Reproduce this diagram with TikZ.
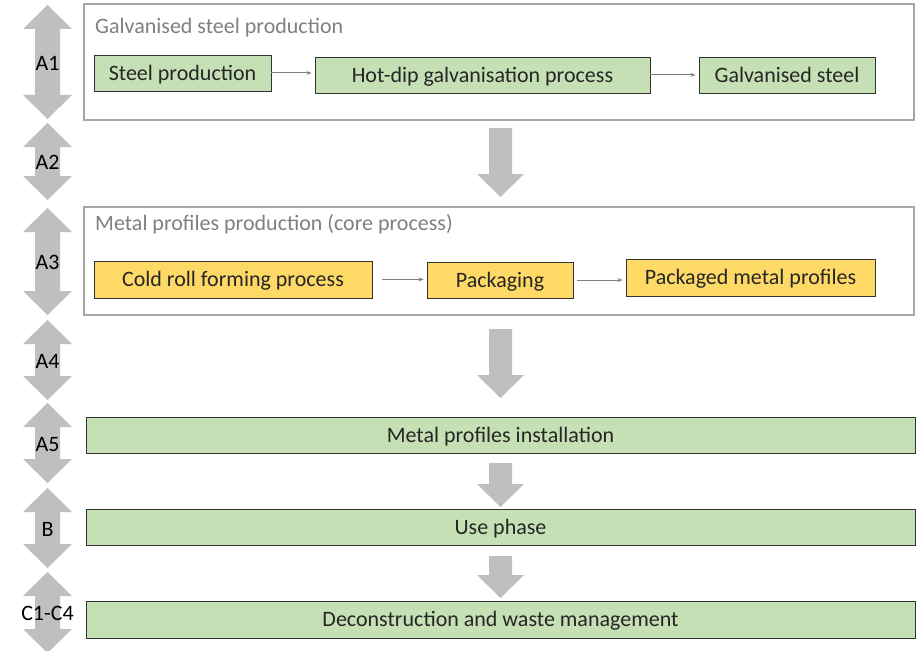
\documentclass[tikz,border=0pt]{standalone}
\usepackage{fontspec}
\setmainfont{Carlito}
\usetikzlibrary{arrows.meta}
\definecolor{boxgreen}{HTML}{C5E0B4}
\definecolor{boxyellow}{HTML}{FFD966}
\definecolor{arrowgray}{HTML}{BFBFBF}
\definecolor{framegray}{HTML}{A6A6A6}
\definecolor{titlegray}{HTML}{808080}
\definecolor{conngray}{HTML}{7F7F7F}
\definecolor{textdark}{HTML}{262626}
\newcommand{\dnarrow}[3]{%
  \fill[arrowgray] ({#1-11.5},#2) -- ({#1+11.5},#2) -- ({#1+11.5},{#3-23}) -- ({#1+23.5},{#3-23}) -- (#1,#3) -- ({#1-23.5},{#3-23}) -- ({#1-11.5},{#3-23}) -- cycle;}
\newcommand{\udarrow}[4]{%
  \fill[arrowgray] (47.5,#1) -- (72,{#1+24}) -- (60,{#1+24}) -- (60,{#2-24}) -- (72,{#2-24}) -- (47.5,#2) -- (23,{#2-24}) -- (35,{#2-24}) -- (35,{#1+24}) -- (23,{#1+24}) -- cycle;
  \node[phase] (#4) at (47.5,{(#1+#2)/2+1}) {#3};}
\begin{document}
\begin{tikzpicture}[x=1pt,y=-1pt,
  every node/.style={font=\fontsize{22}{26}\selectfont, text=textdark, inner sep=0pt, text height=14.2pt, text depth=0pt},
  procbox/.style={draw=black!80, line width=0.9pt, minimum height=36pt, align=center},
  gbox/.style={procbox, fill=boxgreen},
  ybox/.style={procbox, fill=boxyellow},
  container/.style={draw=framegray, line width=1.6pt, fill=white},
  ctitle/.style={text=titlegray, anchor=west},
  phase/.style={text=black},
  conn/.style={draw=conngray, line width=1pt, -{Stealth[length=5pt,width=4pt]}, shorten >=3pt}]
\useasboundingbox (0,0) rectangle (917,650);
\begin{scope}
\clip (0,0) rectangle (917,650);
% left phase arrows
\udarrow{5}{119}{A1}{pA1}
\udarrow{123}{200}{A2}{pA2}
\udarrow{208}{315}{A3}{pA3}
\udarrow{320}{400}{A4}{pA4}
\udarrow{403}{483}{A5}{pA5}
\udarrow{488}{568}{B}{pB}
\udarrow{572}{653}{C1-C4}{pC}
\end{scope}
% containers
\node[container, minimum width=830pt, minimum height=116pt] (cont1) at (499,62) {};
\node[ctitle] (t1) at (95,26.5) {Galvanised steel production};
\node[container, minimum width=830pt, minimum height=108pt] (cont2) at (499,261) {};
\node[ctitle] (t2) at (95,223) {Metal profiles production (core process)};
% process boxes row 1
\node[gbox, minimum width=177pt] (steel) at (182.5,73) {Steel production};
\node[gbox, minimum width=335pt] (hdg) at (482.5,75) {Hot-dip galvanisation process};
\node[gbox, minimum width=176pt] (gs) at (787,75) {Galvanised steel};
\draw[conn] (steel.east) -- (hdg.west |- steel.east);
\draw[conn] (hdg.east) -- (gs.west);
% process boxes row 2
\node[ybox, minimum width=278pt, minimum height=37pt] (crf) at (233,279.5) {Cold roll forming process};
\node[ybox, minimum width=146pt] (pack) at (500,280) {Packaging};
\node[ybox, minimum width=249pt, minimum height=37pt] (pmp) at (750.5,277.5) {Packaged metal profiles};
\draw[conn, shorten <=10pt] (crf.east) -- (pack.west |- crf.east);
\draw[conn, shorten <=4pt] (pack.east) -- (pmp.west |- pack.east);
% wide boxes
\node[gbox, minimum width=829pt] (inst) at (500.5,435) {Metal profiles installation};
\node[gbox, minimum width=829pt] (use) at (500.5,527) {Use phase};
\node[gbox, minimum width=829pt, minimum height=37pt] (dec) at (500.5,619.5) {Deconstruction and waste management};
% big flow arrows
\dnarrow{500.5}{128}{197}
\dnarrow{500.5}{329}{398}
\dnarrow{500.5}{463}{507}
\dnarrow{500.5}{556}{598}
\end{tikzpicture}
\end{document}
